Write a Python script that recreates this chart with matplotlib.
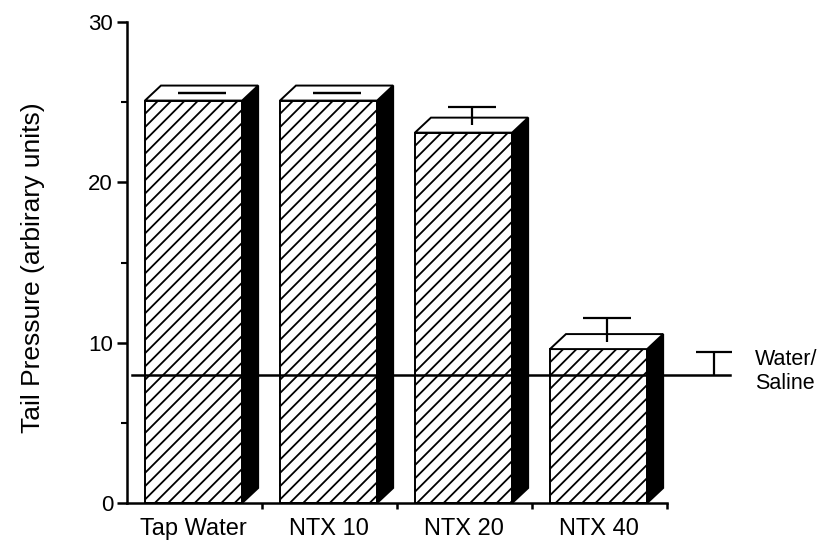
import numpy as np
import matplotlib.pyplot as plt
from matplotlib.patches import Rectangle, Polygon
from matplotlib.collections import LineCollection

plt.rcParams['font.family'] = ['Liberation Sans', 'DejaVu Sans']

# data
groups = ['Tap Water', 'NTX 10', 'NTX 20', 'NTX 40']
means = [25.1, 25.1, 23.1, 9.6]
sems = [0.0, 0.0, 1.1, 1.5]
baseline = 8.0
baseline_sem = 1.4

fig = plt.figure(figsize=(8.3, 5.46), dpi=100)
ax = fig.add_axes([127/830, 1 - 503/546, 540/830, 481/546])
ax.set_xlim(0, 4)
ax.set_ylim(0, 30)

# pixels per data unit, used for the fake 3d depth and the hatch
W = fig.get_figwidth()*fig.dpi*ax.get_position().width
H = fig.get_figheight()*fig.dpi*ax.get_position().height
pxx = W/4
pxy = H/30
dx = 16/pxx
dy = 15/pxy

off = 0.133
bw = 0.72
lw = 1.4

for i, (m, s) in enumerate(zip(means, sems)):
    xl = i + off
    xr = xl + bw
    front = Rectangle((xl, 0), bw, m, facecolor='white', edgecolor='black', lw=lw, zorder=2)
    ax.add_patch(front)
    # hatch: 45 deg lines in pixel space, cut to the front face
    sp = 13.3/pxx
    k = pxy/pxx
    segs = []
    x0 = xl - m*k
    while x0 < xr:
        y0 = max(0, (xl - x0)/k)
        y1 = min(m, (xr - x0)/k)
        if y1 > y0:
            segs.append([(x0 + y0*k, y0), (x0 + y1*k, y1)])
        x0 += sp
    ax.add_collection(LineCollection(segs, colors='black', linewidths=1.3, zorder=2.1))
    side = Polygon([(xr, 0), (xr + dx, dy), (xr + dx, m + dy), (xr, m)],
                   closed=True, facecolor='black', edgecolor='black', lw=lw, zorder=3)
    ax.add_patch(side)
    top = Polygon([(xl, m), (xl + dx, m + dy), (xr + dx, m + dy), (xr, m)],
                  closed=True, facecolor='white', edgecolor='black', lw=lw, zorder=3)
    ax.add_patch(top)
    eb = ax.errorbar(xl + bw/2 + dx/2, m + dy/2, yerr=[[0], [s]], fmt='none',
                     ecolor='black', elinewidth=1.6, capsize=17, capthick=1.6, zorder=4)
    if s > 0:
        eb[1][0].set_visible(False)

# water/saline reference line
ax.plot([0.04, 4.47], [baseline, baseline], color='black', lw=1.8, zorder=5, clip_on=False)
eb = ax.errorbar(4.35, baseline, yerr=[[0], [baseline_sem]], fmt='none', ecolor='black',
                 elinewidth=1.6, capsize=13, capthick=1.6, zorder=5, clip_on=False)
eb[1][0].set_visible(False)
ax.text(4.65, 8.2, 'Water/\nSaline', fontsize=15.5, va='center', ha='left', linespacing=1.15)

# axes
for sp_name in ['top', 'right']:
    ax.spines[sp_name].set_visible(False)
ax.spines['left'].set_linewidth(1.8)
ax.spines['bottom'].set_linewidth(1.8)
ax.set_yticks([0, 10, 20, 30])
ax.set_yticks([5, 15, 25], minor=True)
ax.tick_params(axis='y', which='major', length=7, width=1.8, labelsize=16, pad=3)
ax.tick_params(axis='y', which='minor', length=4, width=1.5)
ax.set_xticks([1, 2, 3, 4])
ax.set_xticklabels([])
ax.tick_params(axis='x', which='major', length=4, width=1.8)
ax.set_xticks([i + off + bw/2 for i in range(4)], minor=True)
ax.set_xticklabels(groups, minor=True)
ax.tick_params(axis='x', which='minor', length=0, labelsize=17, pad=11)
ax.set_ylabel('Tail Pressure (arbirary units)', fontsize=19)
ax.yaxis.set_label_coords(-0.152, 0.49)

plt.savefig('out.png', dpi=100)
